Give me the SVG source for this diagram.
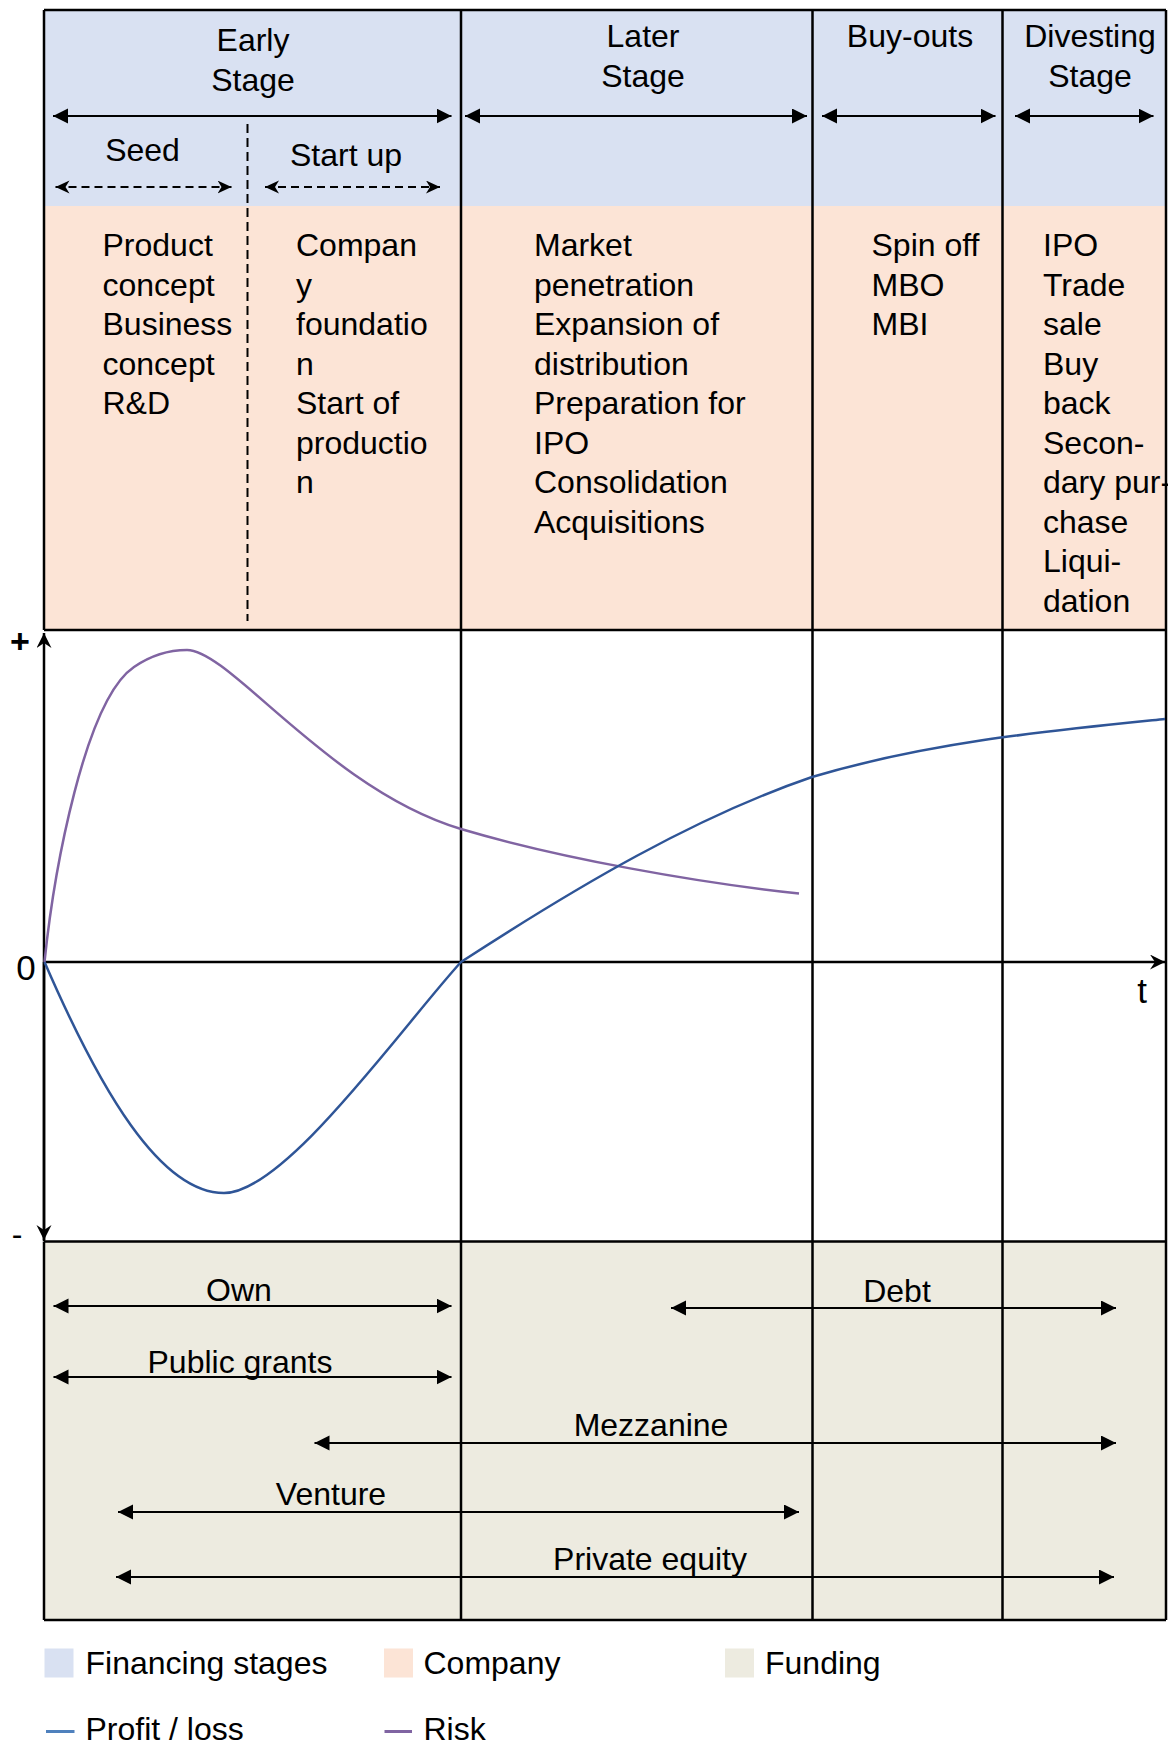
<svg xmlns="http://www.w3.org/2000/svg" width="1168" height="1744" viewBox="0 0 1168 1744">
<style>
text{font-family:"Liberation Sans",Arial,sans-serif;font-size:32px;fill:#000}
.c{text-anchor:middle}
.ln{stroke:#000;stroke-width:2.5;fill:none}
.arr{stroke:#000;stroke-width:2.2;fill:none;marker-start:url(#tri);marker-end:url(#tri)}
.dash{stroke:#000;stroke-width:2;fill:none;stroke-dasharray:8 5;marker-start:url(#stl);marker-end:url(#stl)}
.profit{stroke:#2F5597;stroke-width:2.5;fill:none}
.risk{stroke:#8064A2;stroke-width:2.5;fill:none}
</style>
<defs>
<marker id="tri" markerUnits="userSpaceOnUse" markerWidth="16" markerHeight="16" refX="15" refY="7.5" orient="auto-start-reverse" viewBox="0 0 16 16"><path d="M0,0 L15,7.5 L0,15 z" fill="#000"/></marker>
<marker id="stl" markerUnits="userSpaceOnUse" markerWidth="15" markerHeight="14" refX="14" refY="6.5" orient="auto-start-reverse" viewBox="0 0 15 14"><path d="M0,0 L14,6.5 L0,13 L4,6.5 z" fill="#000"/></marker>
<marker id="ax" markerUnits="userSpaceOnUse" markerWidth="16" markerHeight="16" refX="15" refY="7.5" orient="auto-start-reverse" viewBox="0 0 16 16"><path d="M0,0 L15,7.5 L0,15 L5,7.5 z" fill="#000"/></marker>
</defs>

<g id="bands">
<rect x="44" y="10" width="1122" height="196" fill="#D9E1F2"/>
<rect x="44" y="206" width="1122" height="424" fill="#FCE4D6"/>
<rect x="44" y="630" width="1122" height="611.5" fill="#FFFFFF"/>
<rect x="44" y="1241.5" width="1122" height="378.5" fill="#EDEBE0"/>
</g>

<g id="grid">
<path class="ln" d="M44,10 H1166 M44,10 V630 M44,1241.5 V1620 M1166,10 V1620 M44,630 H1166 M44,1241.5 H1166 M44,1620 H1166"/>
<path class="ln" d="M461,10 V1620 M812.5,10 V1620 M1002.5,10 V1620"/>
<path d="M247.5,124 V621" stroke="#000" stroke-width="2" stroke-dasharray="9 5" fill="none"/>
</g>

<g id="stage-early">
<text class="c" x="253" y="51">Early</text>
<text class="c" x="253" y="91">Stage</text>
<text class="c" x="142.5" y="161">Seed</text>
<text class="c" x="346" y="166">Start up</text>
</g>
<g id="stage-later">
<text class="c" x="643" y="47">Later</text>
<text class="c" x="643" y="87">Stage</text>
</g>
<g id="stage-buyouts">
<text class="c" x="910" y="47">Buy-outs</text>
</g>
<g id="stage-divesting">
<text class="c" x="1090" y="47">Divesting</text>
<text class="c" x="1090" y="87">Stage</text>
</g>

<g id="company-seed">
<text x="102.5" y="256">Product</text>
<text x="102.5" y="295.5">concept</text>
<text x="102.5" y="335">Business</text>
<text x="102.5" y="374.5">concept</text>
<text x="102.5" y="414">R&amp;D</text>
</g>
<g id="company-startup">
<text x="296" y="256">Compan</text>
<text x="296" y="295.5">y</text>
<text x="296" y="335">foundatio</text>
<text x="296" y="374.5">n</text>
<text x="296" y="414">Start of</text>
<text x="296" y="453.5">productio</text>
<text x="296" y="493">n</text>
</g>
<g id="company-later">
<text x="534" y="256">Market</text>
<text x="534" y="295.5">penetration</text>
<text x="534" y="335">Expansion of</text>
<text x="534" y="374.5">distribution</text>
<text x="534" y="414">Preparation for</text>
<text x="534" y="453.5">IPO</text>
<text x="534" y="493">Consolidation</text>
<text x="534" y="532.5">Acquisitions</text>
</g>
<g id="company-buyouts">
<text x="871.5" y="256">Spin off</text>
<text x="871.5" y="295.5">MBO</text>
<text x="871.5" y="335">MBI</text>
</g>
<g id="company-divesting">
<text x="1043" y="256">IPO</text>
<text x="1043" y="295.5">Trade</text>
<text x="1043" y="335">sale</text>
<text x="1043" y="374.5">Buy</text>
<text x="1043" y="414">back</text>
<text x="1043" y="453.5">Secon-</text>
<text x="1043" y="493">dary pur-</text>
<text x="1043" y="532.5">chase</text>
<text x="1043" y="572">Liqui-</text>
<text x="1043" y="611.5">dation</text>
</g>

<g id="chart">
<path d="M44,1241 V633" stroke="#000" stroke-width="2.5" fill="none" marker-end="url(#ax)"/>
<path d="M44,962 V1240" stroke="#000" stroke-width="2.5" fill="none" marker-end="url(#ax)"/>
<path d="M44,962 H1165" stroke="#000" stroke-width="2.5" fill="none" marker-end="url(#ax)"/>
<text class="c" x="20" y="653" style="font-size:34px;font-weight:bold">+</text>
<text class="c" x="17" y="1245" style="font-size:32px">-</text>
<text class="c" x="26" y="980" style="font-size:35px">0</text>
<text class="c" x="1142" y="1003" style="font-size:35px">t</text>
<path class="risk" d="M44.5,962 C54,870 85,700 134,667 C150,656 168,650 187,650 C230,650 330,790 461,829 C560,858.5 700,883 799,893.5"/>
<path class="profit" d="M44.5,962 C100,1090 160,1193 224,1193 C285,1193 401,1028 461,962 C578,886 695,817 812,777 C930,742 1047,731 1165,719"/>
</g>

<g id="connectors">
<path class="arr" d="M53,116 H451.5"/>
<path class="arr" d="M465,116 H807"/>
<path class="arr" d="M822,116 H995.5"/>
<path class="arr" d="M1015,116 H1153.5"/>
<path class="dash" d="M55.5,187 H231.5"/>
<path class="dash" d="M265,187 H440"/>
<path class="arr" d="M53.5,1306 H451.5"/>
<path class="arr" d="M53.5,1377 H451.5"/>
<path class="arr" d="M671,1308 H1116"/>
<path class="arr" d="M314.5,1443 H1116"/>
<path class="arr" d="M118,1512 H799"/>
<path class="arr" d="M116,1577 H1114"/>
</g>

<g id="funding-labels">
<text class="c" x="239" y="1301">Own</text>
<text class="c" x="240" y="1373">Public grants</text>
<text class="c" x="897" y="1302">Debt</text>
<text class="c" x="651" y="1436">Mezzanine</text>
<text class="c" x="331" y="1505">Venture</text>
<text class="c" x="650" y="1570">Private equity</text>
</g>

<g id="legend">
<rect x="44.5" y="1648.5" width="29" height="29" fill="#D9E1F2"/>
<text x="85.5" y="1674">Financing stages</text>
<rect x="384" y="1648.5" width="29" height="29" fill="#FCE4D6"/>
<text x="423.5" y="1674">Company</text>
<rect x="725" y="1648.5" width="29" height="29" fill="#EDEBE0"/>
<text x="765" y="1674">Funding</text>
<path d="M46,1731.5 H74.5" stroke="#4F81BD" stroke-width="3"/>
<text x="85.5" y="1740">Profit / loss</text>
<path d="M384.5,1731.5 H412" stroke="#8064A2" stroke-width="3"/>
<text x="423.5" y="1740">Risk</text>
</g>
</svg>
